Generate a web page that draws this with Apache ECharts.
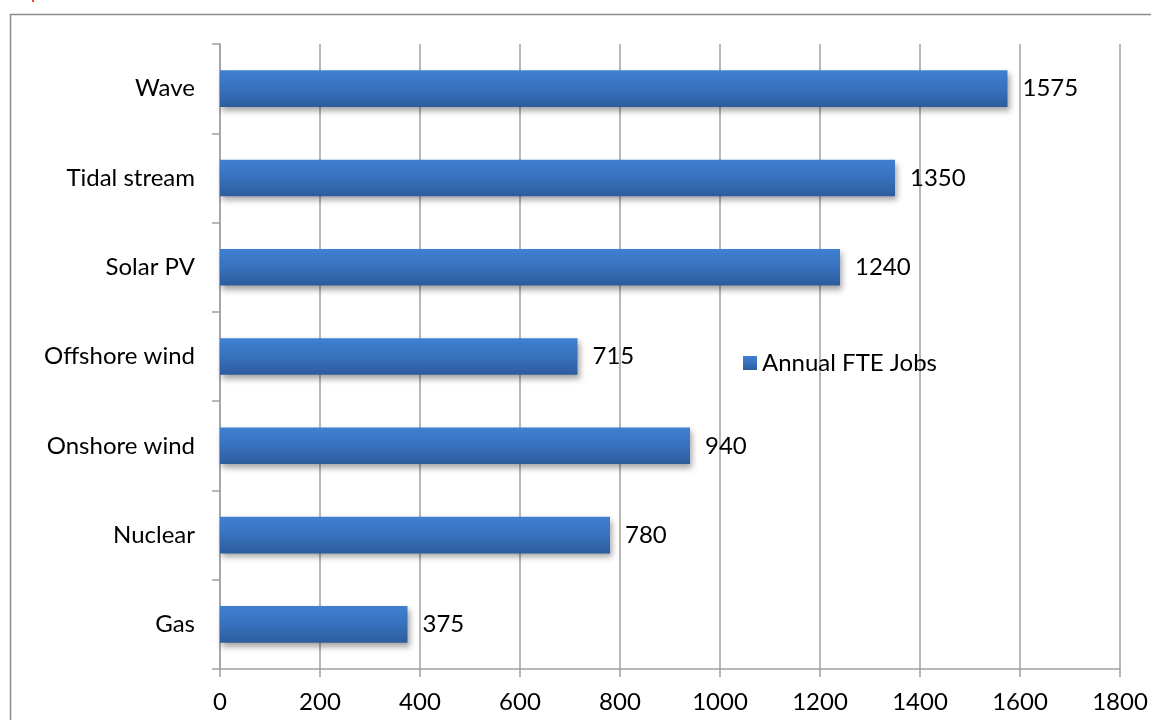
<!DOCTYPE html>
<html>
<head>
<meta charset="utf-8">
<style>
  html, body { margin: 0; padding: 0; background: #fff; }
  #chart { width: 1151px; height: 720px; }
</style>
<script src="https://cdn.jsdelivr.net/npm/echarts@6/dist/echarts.min.js"></script>
</head>
<body>
<div id="chart"></div>
<script>
// Annual full-time-equivalent jobs by generation technology
const categories = ['Gas', 'Nuclear', 'Onshore wind', 'Offshore wind', 'Solar PV', 'Tidal stream', 'Wave'];
const jobs = [375, 780, 940, 715, 1240, 1350, 1575];
const seriesName = 'Annual FTE Jobs';

const FONT = 'Lato';
const FONT_SIZE = 24;
const GRID_GRAY = '#a0a0a0';

const barFill = new echarts.graphic.LinearGradient(0, 0, 0, 1, [
  { offset: 0, color: '#3f80d2' },
  { offset: 0.5, color: '#3871bd' },
  { offset: 1, color: '#2d5c9c' }
]);

const chart = echarts.init(document.getElementById('chart'), null, { renderer: 'canvas' });

chart.setOption({
  animation: false,
  backgroundColor: '#ffffff',
  textStyle: { fontFamily: FONT },
  graphic: [
    {
      type: 'rect',
      shape: { x: 10.5, y: 14.5, width: 1200, height: 800 },
      style: { fill: 'none', stroke: '#8c8c8c', lineWidth: 1.5 },
      silent: true
    },
    {
      type: 'rect',
      shape: { x: 32, y: 0, width: 2, height: 2 },
      style: { fill: '#e0443c' },
      silent: true
    }
  ],
  grid: { left: 220, right: 31, top: 44, bottom: 51, containLabel: false },
  legend: {
    left: 738,
    top: 346,
    itemWidth: 14,
    itemHeight: 14,
    itemGap: 6,
    icon: 'rect',
    textStyle: { fontFamily: FONT, fontSize: FONT_SIZE, color: '#000' },
    data: [seriesName]
  },
  xAxis: {
    type: 'value',
    min: 0,
    max: 1800,
    interval: 200,
    axisLine: { show: true, lineStyle: { color: GRID_GRAY, width: 1.5 } },
    axisTick: { show: true, length: 8, lineStyle: { color: GRID_GRAY, width: 1.5 } },
    axisLabel: {
      fontFamily: FONT, fontSize: FONT_SIZE, color: '#000', margin: 21,
      formatter: (v) => String(v)
    },
    splitLine: { show: true, lineStyle: { color: GRID_GRAY, width: 1.5 } }
  },
  yAxis: {
    type: 'category',
    data: categories,
    axisLine: { show: true, lineStyle: { color: GRID_GRAY, width: 1.5 } },
    axisTick: { show: true, length: 8, lineStyle: { color: GRID_GRAY, width: 1.5 } },
    axisLabel: { fontFamily: FONT, fontSize: FONT_SIZE, color: '#000', margin: 25 },
    splitLine: { show: false }
  },
  series: [
    {
      name: seriesName,
      type: 'bar',
      data: jobs,
      barWidth: '41%',
      itemStyle: {
        color: barFill,
        shadowColor: 'rgba(0,0,0,0.35)',
        shadowBlur: 6,
        shadowOffsetX: 2,
        shadowOffsetY: 4
      },
      label: {
        show: true,
        position: 'right',
        distance: 15,
        fontFamily: FONT,
        fontSize: FONT_SIZE,
        color: '#000'
      }
    }
  ]
});
</script>
</body>
</html>
